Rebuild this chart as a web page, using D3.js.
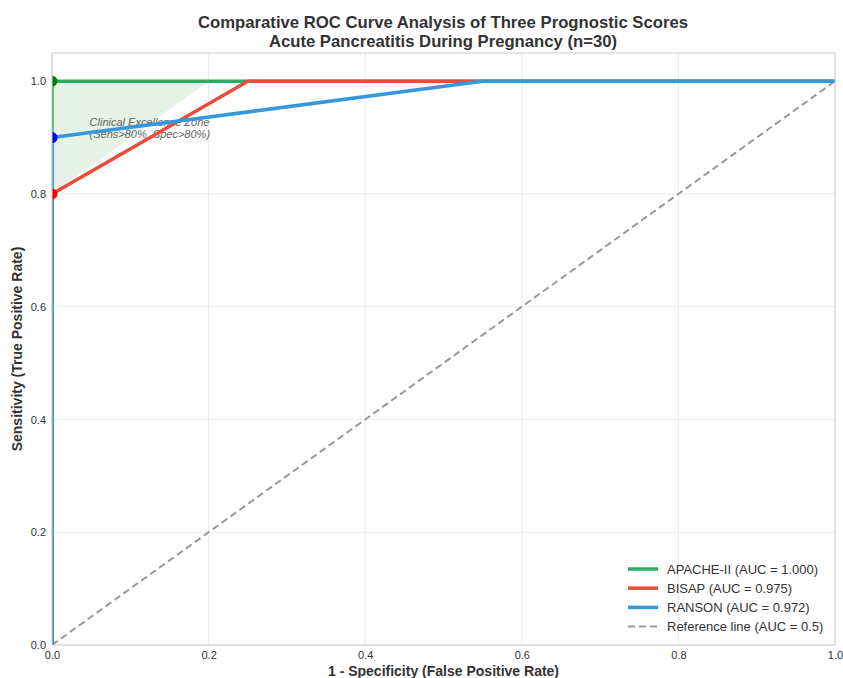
<!DOCTYPE html>
<html>
<head>
<meta charset="utf-8">
<script src="https://cdn.jsdelivr.net/npm/d3@7"></script>
<style>
  body { margin: 0; background: #fff; }
  text { font-family: "Liberation Sans", Arial, sans-serif; }
</style>
</head>
<body>
<div id="chart"></div>
<script>
// data
const apacheFpr = [0, 0, 1];
const apacheTpr = [0, 1, 1];
const bisapFpr = [0, 0, 0.25, 1];
const bisapTpr = [0, 0.8, 1, 1];
const ransonFpr = [0, 0, 0.55, 1];
const ransonTpr = [0, 0.9, 1, 1];
const seriesNames = ["APACHE-II (AUC = 1.000)", "BISAP (AUC = 0.975)", "RANSON (AUC = 0.972)", "Reference line (AUC = 0.5)"];
const zoneX = [0, 0, 0.2];
const zoneY = [0.8, 1, 1];
const ticks = [0, 0.2, 0.4, 0.6, 0.8, 1.0];

const W = 843, H = 678;
const margin = {top: 53, right: 8, bottom: 33, left: 52};
const width = W - margin.left - margin.right,
      height = H - margin.top - margin.bottom;

const svg = d3.select("#chart").append("svg")
  .attr("width", W).attr("height", H);

const x = d3.scaleLinear().domain([0, 1]).range([0, width]);
const y = d3.scaleLinear().domain([0, 1.05]).range([height, 0]);

const g = svg.append("g").attr("transform", `translate(${margin.left},${margin.top})`);

g.append("defs").append("clipPath").attr("id", "clip")
  .append("rect").attr("width", width).attr("height", height);

// grid
g.append("g").selectAll("line").data(ticks).enter().append("line")
  .attr("x1", d => x(d)).attr("x2", d => x(d)).attr("y1", 0).attr("y2", height)
  .attr("stroke", "#ebebeb").attr("stroke-width", 1);
g.append("g").selectAll("line").data(ticks).enter().append("line")
  .attr("y1", d => y(d)).attr("y2", d => y(d)).attr("x1", 0).attr("x2", width)
  .attr("stroke", "#ebebeb").attr("stroke-width", 1);

// tick labels
g.append("g").attr("transform", `translate(0,${height})`)
  .call(d3.axisBottom(x).tickValues(ticks).tickFormat(d3.format(".1f")).tickSize(0).tickPadding(6))
  .call(a => a.select(".domain").remove())
  .selectAll("text").attr("font-size", 11).attr("fill", "#333")
  .style("font-family", "Liberation Sans, Arial, sans-serif");
g.append("g")
  .call(d3.axisLeft(y).tickValues(ticks).tickFormat(d3.format(".1f")).tickSize(0).tickPadding(6))
  .call(a => a.select(".domain").remove())
  .selectAll("text").attr("font-size", 11).attr("fill", "#333")
  .style("font-family", "Liberation Sans, Arial, sans-serif");

const plot = g.append("g").attr("clip-path", "url(#clip)");

// excellence zone
plot.append("path")
  .attr("d", d3.line()(zoneX.map((v, i) => [x(v), y(zoneY[i])])) + "Z")
  .attr("fill", "green").attr("fill-opacity", 0.1);

plot.append("text")
  .attr("x", x(0.048)).attr("y", y(0.921))
  .attr("font-size", 11).attr("font-style", "italic").attr("fill", "#666")
  .selectAll("tspan").data(["Clinical Excellence Zone", "(Sens>80%, Spec>80%)"]).enter()
  .append("tspan").attr("x", x(0.048)).attr("dy", (d, i) => i ? 12.3 : 0).text(d => d);

// reference diagonal
plot.append("line")
  .attr("x1", x(0)).attr("y1", y(0)).attr("x2", x(1)).attr("y2", y(1))
  .attr("stroke", "#999").attr("stroke-width", 2).attr("stroke-dasharray", "7,4");

const line = d3.line();
const curves = [
  {fpr: apacheFpr, tpr: apacheTpr, color: "#27ae60"},
  {fpr: bisapFpr, tpr: bisapTpr, color: "#e74c3c"},
  {fpr: ransonFpr, tpr: ransonTpr, color: "#3498db"}
];
curves.forEach(c => {
  plot.append("path")
    .attr("d", line(c.fpr.map((v, i) => [x(v), y(c.tpr[i])])))
    .attr("fill", "none").attr("stroke", c.color).attr("stroke-width", 3.5)
    .attr("stroke-linejoin", "round");
});

// markers at optimal points
const markColors = ["green", "red", "blue"];
curves.forEach((c, k) => {
  plot.append("circle")
    .attr("cx", x(c.fpr[1])).attr("cy", y(c.tpr[1])).attr("r", 5.5)
    .attr("fill", markColors[k]);
});

// frame
g.append("rect").attr("width", width).attr("height", height)
  .attr("fill", "none").attr("stroke", "#cccccc").attr("stroke-width", 1);

// legend
const lg = g.append("g").attr("transform", `translate(${width - 222},${height - 92})`);
const legColors = ["#27ae60", "#e74c3c", "#3498db", "#999"];
seriesNames.forEach((name, i) => {
  const row = lg.append("g").attr("transform", `translate(0,${16 + i * 19.2})`);
  row.append("line").attr("x1", 15).attr("x2", 45)
    .attr("stroke", legColors[i]).attr("stroke-width", i === 3 ? 2 : 3.5)
    .attr("stroke-dasharray", i === 3 ? "7,4" : null);
  row.append("text").attr("x", 54).attr("y", 4.5).attr("font-size", 13).attr("fill", "#333").text(name);
});

// axis titles
svg.append("text").attr("x", margin.left + width / 2).attr("y", H - 2)
  .attr("text-anchor", "middle").attr("font-size", 14).attr("font-weight", "bold").attr("fill", "#333")
  .text("1 - Specificity (False Positive Rate)");
svg.append("text").attr("transform", `translate(22,${margin.top + height / 2}) rotate(-90)`)
  .attr("text-anchor", "middle").attr("font-size", 14).attr("font-weight", "bold").attr("fill", "#333")
  .text("Sensitivity (True Positive Rate)");

// title
svg.append("text").attr("x", 443).attr("y", 28).attr("text-anchor", "middle")
  .attr("font-size", 16.7).attr("font-weight", "bold").attr("fill", "#333")
  .text("Comparative ROC Curve Analysis of Three Prognostic Scores");
svg.append("text").attr("x", 443).attr("y", 47).attr("text-anchor", "middle")
  .attr("font-size", 16.7).attr("font-weight", "bold").attr("fill", "#333")
  .text("Acute Pancreatitis During Pregnancy (n=30)");
</script>
</body>
</html>
